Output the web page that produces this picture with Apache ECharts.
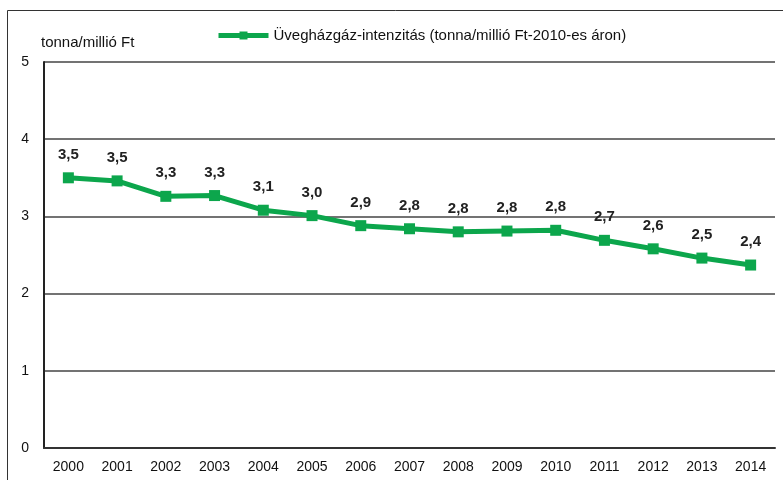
<!DOCTYPE html>
<html>
<head>
<meta charset="utf-8">
<script src="https://cdn.jsdelivr.net/npm/echarts@6/dist/echarts.min.js"></script>
<style>
  html, body { margin: 0; padding: 0; background: #fff; }
  #main { width: 783px; height: 480px; }
</style>
</head>
<body>
<div id="main"></div>
<script>
// évek és értékek (tonna/millió Ft, 2010-es áron)
var years = ["2000", "2001", "2002", "2003", "2004", "2005", "2006", "2007",
  "2008", "2009", "2010", "2011", "2012", "2013", "2014"];
var intensity = [3.50, 3.46, 3.26, 3.27, 3.08, 3.01, 2.88, 2.84,
  2.80, 2.81, 2.82, 2.69, 2.58, 2.46, 2.37];
var seriesName = "Üvegházgáz-intenzitás (tonna/millió Ft-2010-es áron)";
var green = "#0ca64c";
var font = "Liberation Sans, Arial, sans-serif";

var myChart = echarts.init(document.getElementById("main"));
var option = {
  animation: false,
  // keret
  graphic: [{
    type: "rect",
    shape: { x: 7.5, y: 10.5, width: 800, height: 500 },
    style: { fill: "none", stroke: "#333", lineWidth: 1 },
    silent: true
  }],
  legend: {
    top: 23,
    left: 211,
    itemWidth: 50,
    itemHeight: 10,
    lineStyle: { width: 5 },
    textStyle: { color: "#111", fontSize: 15, fontFamily: font }
  },
  grid: { left: 44, right: 8, top: 62, bottom: 32 },
  xAxis: {
    type: "category",
    data: years,
    axisLine: { lineStyle: { color: "#333", width: 2 } },
    axisTick: { show: false },
    axisLabel: { color: "#111", fontSize: 14, fontFamily: font, margin: 12 }
  },
  yAxis: {
    type: "value",
    min: 0,
    max: 5,
    interval: 1,
    name: "tonna/millió Ft",
    nameLocation: "end",
    nameGap: 12,
    nameTextStyle: { color: "#111", fontSize: 15, fontFamily: font, align: "left", padding: [0, 0, 0, -3] },
    axisLine: { show: true, lineStyle: { color: "#222", width: 2 } },
    axisTick: { show: false },
    axisLabel: { color: "#111", fontSize: 14, fontFamily: font, margin: 15 },
    splitLine: { lineStyle: { color: "#444", width: 1.5 } }
  },
  series: [{
    name: seriesName,
    type: "line",
    data: intensity,
    symbol: "rect",
    symbolSize: 11,
    itemStyle: { color: green },
    lineStyle: { color: green, width: 5 },
    label: {
      show: true,
      position: "top",
      distance: 10,
      color: "#222",
      fontSize: 15,
      fontWeight: "bold",
      fontFamily: font,
      formatter: function (p) {
        return p.value.toFixed(1).replace(".", ",");
      }
    }
  }]
};
myChart.setOption(option);
</script>
</body>
</html>
